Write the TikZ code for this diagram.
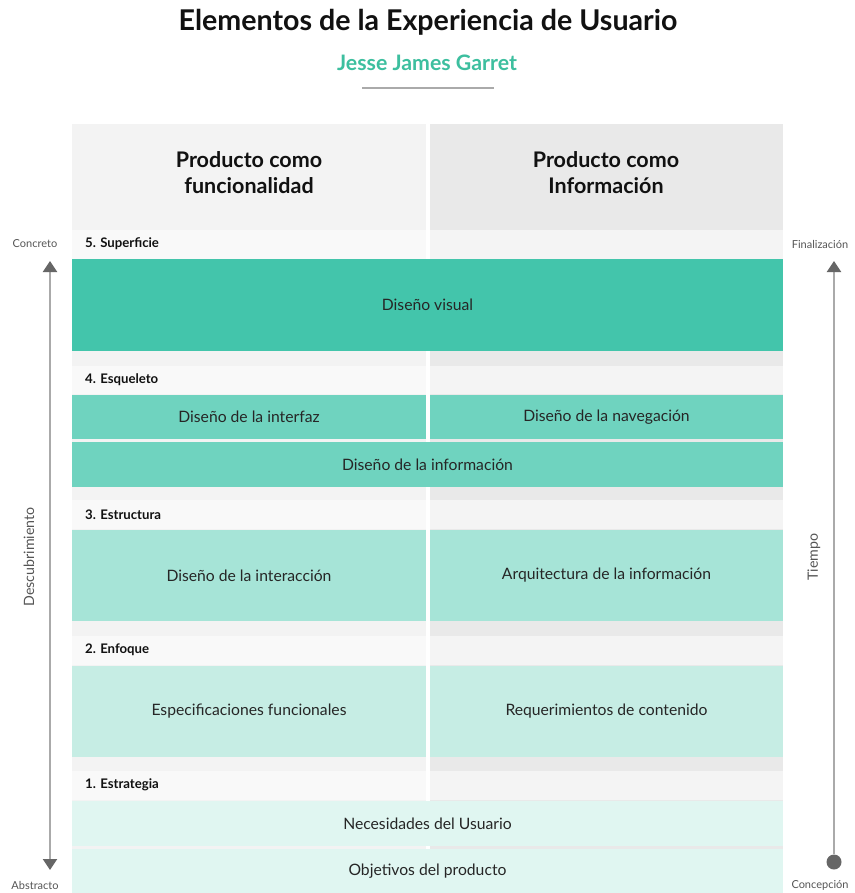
\documentclass[tikz,border=0pt]{standalone}
\usepackage{fontspec}
\setmainfont{Lato}
\usetikzlibrary{arrows.meta}
\definecolor{colL}{HTML}{F3F3F3}
\definecolor{colR}{HTML}{E9E9E9}
\definecolor{labL}{HTML}{F9F9F9}
\definecolor{labR}{HTML}{F4F4F4}
\definecolor{cFive}{HTML}{43C5AB}
\definecolor{cFour}{HTML}{6FD3BF}
\definecolor{cThree}{HTML}{A6E4D7}
\definecolor{cTwo}{HTML}{C6EDE4}
\definecolor{cOne}{HTML}{E0F6F1}
\definecolor{txt}{HTML}{262626}
\definecolor{ttl}{HTML}{111111}
\definecolor{teal}{HTML}{3DBF9F}
\definecolor{axisgray}{HTML}{AAAAAA}
\definecolor{tipgray}{HTML}{666666}
\definecolor{sidetxt}{HTML}{555555}
\tikzset{
  cell/.style={draw=none, inner sep=0pt, outer sep=0pt, anchor=north west, text=txt, font=\fontsize{15.7}{18}\selectfont},
  layerlabel/.style={anchor=west, inner sep=0pt, text=ttl, font=\bfseries\fontsize{13.2}{15}\selectfont},
  coltitle/.style={align=center, inner sep=0pt, text=ttl, font=\bfseries\fontsize{21.5}{26}\selectfont},
  sidelabel/.style={inner sep=0pt, text=sidetxt, font=\fontsize{11}{12}\selectfont},
  sidetitle/.style={inner sep=0pt, text=sidetxt, rotate=90, font=\fontsize{14.2}{16}\selectfont},
  axisline/.style={draw=axisgray, line width=2pt},
}
\begin{document}
\begin{tikzpicture}[x=1pt, y=-1pt]
\useasboundingbox (0,0) rectangle (854,893);
\fill[white] (0,0) rectangle (854,893);
% title
\node[inner sep=0pt, text=ttl, font=\bfseries\fontsize{28.6}{32}\selectfont] (title) at (428,22) {Elementos de la Experiencia de Usuario};
\node[inner sep=0pt, text=teal, font=\bfseries\fontsize{21.3}{24}\selectfont] (subtitle) at (427,63) {Jesse James Garret};
\coordinate (ulA) at (362,88);
\coordinate (ulB) at (494,88);
\draw[draw=axisgray, line width=2pt] (ulA) -- (ulB);
% column backgrounds
\fill[colL] (72,124) rectangle (426,893);
\fill[colR] (430,124) rectangle (783,893);
% header titles
\node[coltitle] (hleft) at (249,173) {Producto como\\funcionalidad};
\node[coltitle] (hright) at (606,173) {Producto como\\Información};
% label rows
\foreach \ya/\yb in {230/259, 366/394, 500/529, 636/665, 771/800}{
  \fill[labL] (72,\ya) rectangle (426,\yb);
  \fill[labR] (430,\ya) rectangle (783,\yb);
}
\node[layerlabel] (l5) at (85,244) {5. Superficie};
\node[layerlabel] (l4) at (85,380) {4. Esqueleto};
\node[layerlabel] (l3) at (85,515) {3. Estructura};
\node[layerlabel] (l2) at (85,650) {2. Enfoque};
\node[layerlabel] (l1) at (85,785) {1. Estrategia};
% layer 5
\node[cell, fill=cFive, minimum width=711pt, minimum height=92pt] (visual) at (72,259) {Diseño visual};
% layer 4
\node[cell, fill=cFour, minimum width=354pt, minimum height=44pt] (interfaz) at (72,395) {Diseño de la interfaz};
\node[cell, fill=cFour, minimum width=353pt, minimum height=44pt] (navegacion) at (430,395) {Diseño de la navegación};
\node[cell, fill=cFour, minimum width=711pt, minimum height=45pt] (informacion) at (72,442) {Diseño de la información};
% layer 3
\node[cell, fill=cThree, minimum width=354pt, minimum height=91pt] (interaccion) at (72,530) {Diseño de la interacción};
\node[cell, fill=cThree, minimum width=353pt, minimum height=91pt] (arquitectura) at (430,530) {Arquitectura de la información};
% layer 2
\node[cell, fill=cTwo, minimum width=354pt, minimum height=91pt] (especificaciones) at (72,666) {Especificaciones funcionales};
\node[cell, fill=cTwo, minimum width=353pt, minimum height=91pt] (requerimientos) at (430,666) {Requerimientos de contenido};
% layer 1
\node[cell, fill=cOne, minimum width=711pt, minimum height=45pt] (necesidades) at (72,801) {Necesidades del Usuario};
\node[cell, fill=cOne, minimum width=711pt, minimum height=44pt] (objetivos) at (72,849) {Objetivos del producto};
% left axis
\node[sidelabel] (concreto) at (35,244) {Concreto};
\node[sidelabel] (abstracto) at (35,885) {Abstracto};
\node[sidetitle] (descubrimiento) at (29,557) {Descubrimiento};
\coordinate (ltop) at (50,261);
\coordinate (lbot) at (50,870);
\draw[axisline, {Triangle[width=14pt, length=11pt, color=tipgray]}-{Triangle[width=14pt, length=11pt, color=tipgray]}] (ltop) -- (lbot);
% right axis
\node[sidelabel] (finalizacion) at (820,244) {Finalización};
\node[sidelabel] (concepcion) at (820,885) {Concepción};
\node[sidetitle] (tiempo) at (814,557) {Tiempo};
\coordinate (rtop) at (834,261);
\node[circle, fill=tipgray, inner sep=0pt, minimum size=15pt] (rdot) at (834,862) {};
\draw[axisline, {Triangle[width=14pt, length=11pt, color=tipgray]}-] (rtop) -- (rdot);
\end{tikzpicture}
\end{document}
